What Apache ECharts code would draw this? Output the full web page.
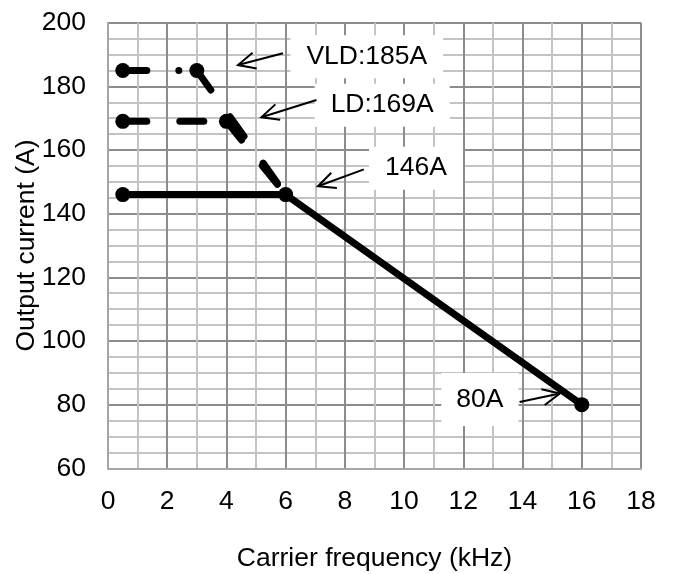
<!DOCTYPE html>
<html>
<head>
<meta charset="utf-8">
<script src="https://cdn.jsdelivr.net/npm/echarts@6/dist/echarts.min.js"></script>
<style>
html,body{margin:0;padding:0;background:#fff;}
#chart{width:673px;height:574px;}
</style>
</head>
<body>
<div id="chart"></div>
<script>
// ---- data ----
const ratedCurve = [[0.5, 146], [6, 146], [16, 80]];
const vldFlat = [[0.5, 185], [3, 185]];
const vldSlope = [[3, 185], [6, 146]];
const ldFlat = [[0.5, 169], [4, 169]];
const ldSlope = [[4, 169], [6, 146]];
const noteTexts = ['VLD:185A', 'LD:169A', '146A', '80A'];
const notePos = [[8.74, 189.3], [9.26, 174.1], [10.4, 154.3], [12.56, 81.6]];
const arrowLines = [
  [5.91, 190.4, 4.39, 186.7],
  [7.04, 175.7, 5.18, 170.3],
  [8.64, 153.9, 7.09, 148.6],
  [13.9, 80.8, 15.26, 83.5]
];
const xTicks = {min: 0, max: 18, step: 2};
const yTicks = {min: 60, max: 200, step: 20};

const FONT = '"Liberation Sans", Arial, sans-serif';
const FS = 26.5;
const majorColor = '#8c8c8c';
const minorColor = '#c3c3c3';

const chart = echarts.init(document.getElementById('chart'), null, {renderer: 'canvas'});

function lineSeries(data, dash, showSym, z) {
  return {
    type: 'line',
    data: data,
    symbol: showSym ? 'circle' : 'none',
    symbolSize: 15,
    showSymbol: true,
    z: z,
    itemStyle: {color: '#000'},
    lineStyle: {color: '#000', width: 7, type: dash || 'solid', cap: 'round', join: 'round'},
    animation: false
  };
}

const option = {
  animation: false,
  backgroundColor: '#fff',
  textStyle: {fontFamily: FONT},
  grid: {left: 108, right: 32, top: 22.7, bottom: 105.7, containLabel: false, outerBoundsMode: 'none'},
  xAxis: {
    type: 'value',
    min: xTicks.min, max: xTicks.max, interval: xTicks.step,
    name: 'Carrier frequency (kHz)',
    nameLocation: 'middle',
    nameGap: 77,
    nameMoveOverlap: false,
    nameTextStyle: {fontSize: FS, color: '#000', fontFamily: FONT},
    axisLine: {show: true, lineStyle: {color: '#a6a6a6', width: 2}},
    axisTick: {show: false},
    minorTick: {show: false, splitNumber: 2},
    axisLabel: {fontSize: FS, color: '#000', margin: 20, fontFamily: FONT},
    splitLine: {show: true, lineStyle: {color: majorColor, width: 2}},
    minorSplitLine: {show: true, lineStyle: {color: minorColor, width: 2}}
  },
  yAxis: {
    type: 'value',
    min: yTicks.min, max: yTicks.max, interval: yTicks.step,
    name: 'Output current (A)',
    nameLocation: 'middle',
    nameGap: 68,
    nameMoveOverlap: false,
    nameTextStyle: {fontSize: FS, color: '#000', fontFamily: FONT},
    axisLine: {show: true, lineStyle: {color: '#a6a6a6', width: 2}},
    axisTick: {show: false},
    minorTick: {show: false, splitNumber: 4},
    axisLabel: {fontSize: FS, color: '#000', margin: 22, fontFamily: FONT},
    splitLine: {show: true, lineStyle: {color: majorColor, width: 2}},
    minorSplitLine: {show: true, lineStyle: {color: minorColor, width: 2}}
  },
  series: [
    lineSeries(vldFlat, [24, 32, 0.01, 200], true, 3),
    lineSeries(vldSlope, [24, 33], false, 3),
    lineSeries(ldFlat, [24, 33], true, 3),
    lineSeries(ldSlope, [24, 33], false, 3),
    lineSeries(ratedCurve, 'solid', true, 4),
    {
      type: 'custom',
      z: 10,
      animation: false,
      data: arrowLines,
      renderItem: function (params, api) {
        const p1 = api.coord([api.value(0), api.value(1)]);
        const p2 = api.coord([api.value(2), api.value(3)]);
        const ang = Math.atan2(p2[1] - p1[1], p2[0] - p1[0]);
        const L = 19, a = 0.44;
        const w1 = [p2[0] - L * Math.cos(ang - a), p2[1] - L * Math.sin(ang - a)];
        const w2 = [p2[0] - L * Math.cos(ang + a), p2[1] - L * Math.sin(ang + a)];
        return {
          type: 'group',
          children: [
            {type: 'line', shape: {x1: p1[0], y1: p1[1], x2: p2[0], y2: p2[1]},
             style: {stroke: '#000', lineWidth: 2}},
            {type: 'polyline', shape: {points: [w1, p2, w2]},
             style: {stroke: '#000', fill: null, lineWidth: 2}}
          ]
        };
      }
    },
    {
      type: 'custom',
      z: 9,
      animation: false,
      data: notePos,
      renderItem: function (params, api) {
        const p = api.coord([api.value(0), api.value(1)]);
        const i = params.dataIndex;
        const pad = i === 3 ? [13, 15] : [8, 16];
        return {
          type: 'text',
          x: p[0], y: p[1],
          style: {
            text: noteTexts[i],
            font: FS + 'px ' + FONT,
            fill: '#000',
            align: 'center',
            verticalAlign: 'middle',
            backgroundColor: '#fff',
            padding: pad
          }
        };
      }
    }
  ]
};
chart.setOption(option);
</script>
</body>
</html>
